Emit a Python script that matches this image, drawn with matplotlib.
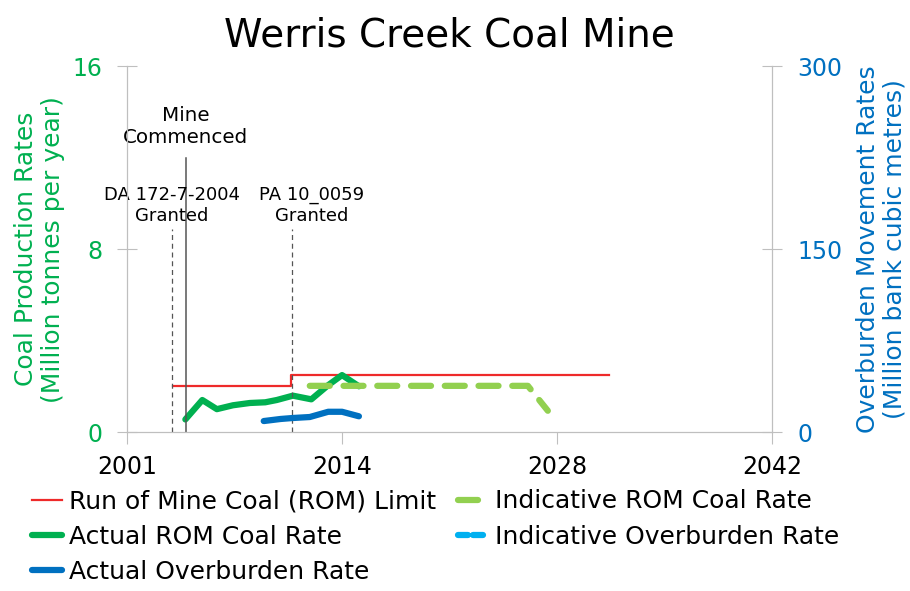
import matplotlib
matplotlib.use("Agg")
import matplotlib.pyplot as plt
import matplotlib.dates as mdates
import pandas as pd

# decimal years
rom_limit_x = [2004.0, 2011.7, 2011.7, 2032.4]
rom_limit_y = [2.0, 2.0, 2.5, 2.5]

actual_rom_x = [2004.8, 2005.9, 2006.85, 2007.9, 2009.0, 2010.0, 2010.75, 2011.8, 2013.0, 2014.1, 2015.0, 2016.1]
actual_rom_y = [0.55, 1.4, 1.0, 1.17, 1.27, 1.3, 1.4, 1.59, 1.43, 2.05, 2.49, 2.0]

indic_rom_x = [2012.9, 2027.1, 2028.4]
indic_rom_y = [2.02, 2.02, 0.93]

actual_ob_x = [2009.9, 2011.0, 2011.8, 2012.9, 2014.1, 2015.0, 2016.1]
actual_ob_y = [9.0, 10.7, 11.5, 12.3, 16.6, 16.6, 12.9]

indic_ob_x = []
indic_ob_y = []

da_year = 2003.9
mine_year = 2004.82
pa_year = 2011.72

tick_dates = ["2001-01-01", "2014-12-31", "2028-12-31", "2042-12-31"]


def to_date(yrs):
    out = []
    for y in yrs:
        base = pd.Timestamp(year=int(y), month=1, day=1)
        out.append(base + pd.Timedelta(days=(y - int(y)) * 365.25))
    return out


green = "#00B050"
blue = "#0070C0"
grey = "#BFBFBF"

fig = plt.figure(figsize=(9.1, 5.91), dpi=100)
ax = fig.add_axes([0.1396, 0.269, 0.7088, 0.619])
ax2 = ax.twinx()

l1, = ax.plot(to_date(rom_limit_x), rom_limit_y, color="#EE2A2A", lw=1.6,
              label="Run of Mine Coal (ROM) Limit")
l2, = ax.plot(to_date(actual_rom_x), actual_rom_y, color=green, lw=4.5,
              solid_capstyle="round", label="Actual ROM Coal Rate")
l4, = ax.plot(to_date(indic_rom_x), indic_rom_y, color="#92D050", lw=4.5,
              dashes=(3.2, 2.2), dash_capstyle="round", label="Indicative ROM Coal Rate")
l3, = ax2.plot(to_date(actual_ob_x), actual_ob_y, color=blue, lw=4.5,
               solid_capstyle="round", label="Actual Overburden Rate")
l5, = ax2.plot(to_date(indic_ob_x), indic_ob_y, color="#00B0F0", lw=4.5,
               dashes=(1.6, 0.8), dash_capstyle="round", label="Indicative Overburden Rate")

# event markers
ax.plot(to_date([da_year, da_year]), [0, 8.9], color="#555555", lw=0.9, ls=(0, (4, 3)))
ax.plot(to_date([pa_year, pa_year]), [0, 8.9], color="#555555", lw=0.9, ls=(0, (4, 3)))
ax.plot(to_date([mine_year, mine_year]), [0, 12.0], color="#555555", lw=1.1)
ax.text(to_date([mine_year])[0], 12.45, "Mine\nCommenced", ha="center", va="bottom",
        fontsize=14.3, linespacing=1.25)
ax.text(to_date([da_year])[0], 9.05, "DA 172-7-2004\nGranted", ha="center", va="bottom",
        fontsize=13, linespacing=1.25)
ax.text(to_date([2013.0])[0], 9.05, "PA 10_0059\nGranted", ha="center", va="bottom",
        fontsize=13, linespacing=1.25)

ax.set_ylim(0, 16)
ax2.set_ylim(0, 300)
ax.set_yticks([0, 8, 16])
ax2.set_yticks([0, 150, 300])
ax.set_xlim(pd.Timestamp("2001-01-01"), pd.Timestamp("2042-12-31"))
ax.set_xticks([pd.Timestamp(d) for d in tick_dates])
ax.xaxis.set_major_formatter(mdates.DateFormatter("%Y"))

ax.tick_params(axis="y", colors=green, labelsize=17, direction="inout", length=14,
               pad=11, color=grey)
ax2.tick_params(axis="y", colors=blue, labelsize=17, direction="inout", length=14,
                pad=11, color=grey)
ax.tick_params(axis="x", labelsize=17, length=8.5, pad=8, color=grey)

for a in (ax, ax2):
    a.spines["top"].set_visible(False)
    for s in ("left", "right", "bottom"):
        a.spines[s].set_color(grey)

ax.set_ylabel("Coal Production Rates\n(Million tonnes per year)", color=green, fontsize=18,
              labelpad=5, linespacing=1.15)
ax2.set_ylabel("Overburden Movement Rates\n(Million bank cubic metres)", color=blue,
               fontsize=18, labelpad=10, linespacing=1.15)
ax.set_title("Werris Creek Coal Mine", fontsize=28, pad=14)

fig.legend(handles=[l1, l2, l3, l4, l5], loc="upper left", bbox_to_anchor=(0.035, 0.172),
           ncol=2, frameon=False, fontsize=18, handlelength=1.2, handletextpad=0.3,
           columnspacing=0.85, labelspacing=0.45, borderaxespad=0, borderpad=0)

fig.savefig("out.png", dpi=100)
